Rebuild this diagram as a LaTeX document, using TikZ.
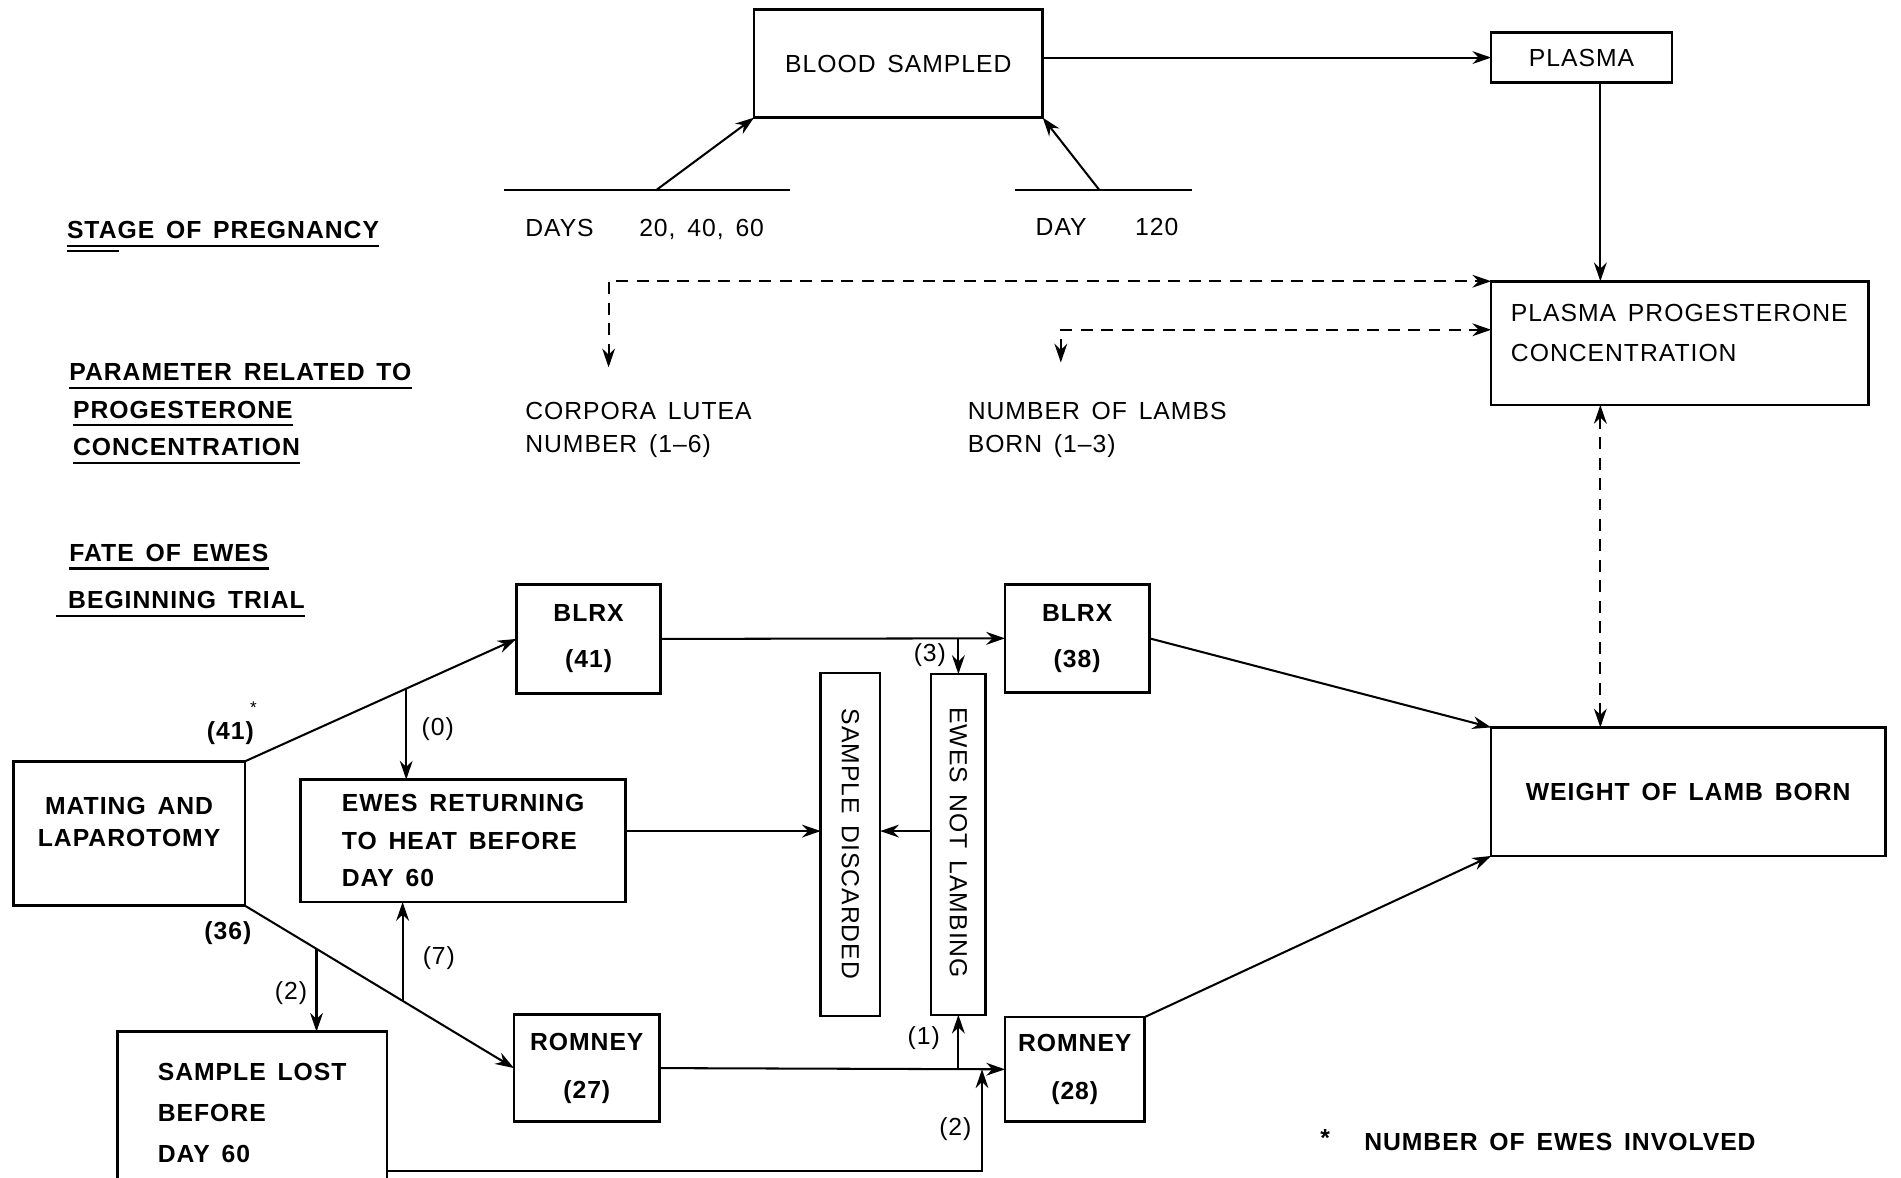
\documentclass[tikz,border=0pt]{standalone}
\usepackage{fontspec}
\setmainfont{Liberation Sans}[LetterSpace=4,WordSpace=1.5]
\usetikzlibrary{arrows.meta,calc}
\begin{document}
\begin{tikzpicture}[x=0.025cm,y=-0.025cm,>={Stealth[length=11pt,width=7.5pt]},
  every node/.style={font=\fontsize{14.5}{18}\selectfont},
  heavy/.style={font=\fontsize{14.5}{18}\selectfont\bfseries},
  box/.style={draw,line width=1.5pt,inner sep=0pt,outer sep=0pt},
  txt/.style={anchor=base west,inner sep=0pt},
  head/.style={heavy,anchor=base west,inner xsep=0pt,inner ysep=4pt,text depth=0pt},
  arr/.style={line width=1.2pt,->},
  darr/.style={line width=1.2pt,dash pattern=on 7pt off 5pt},
  uline/.style={line width=1.2pt}]
\useasboundingbox (0,0) rectangle (1568,971);
\fill[white] (0,0) rectangle (1568,971);
\node[head] (stage) at (55,197) {STAGE OF PREGNANCY};
\node[head] (par1) at (57,314) {PARAMETER RELATED TO};
\node[head] (par2) at (60,345) {PROGESTERONE};
\node[head] (par3) at (60,376) {CONCENTRATION};
\node[head] (fate1) at (57,463) {FATE OF EWES};
\node[head] (fate2) at (56,502) {BEGINNING TRIAL};
\foreach \n in {stage,par1,par2,par3,fate1}
  \draw[uline] (\n.south west) -- (\n.south east);
\draw[uline] ([xshift=-7pt]fate2.south west) -- (fate2.south east);
\draw[uline] ([yshift=-3pt]stage.south west) -- ++(43,0);
\node[box,minimum width=5.95cm,minimum height=2.225cm] (bs) at (741,52.5) {BLOOD SAMPLED};
\node[box,minimum width=3.725cm,minimum height=1.025cm] (plasma) at (1304.5,47.5) {PLASMA};
\draw[arr] (plasma.west -| bs.east) -- (plasma.west);
\draw[uline] (416,157) -- (652,157);
\draw[uline] (837,157) -- (983,157);
\coordinate (d1) at (541,157);
\coordinate (d2) at (907,157);
\draw[arr] (d1) -- (bs.south west);
\draw[arr] (d2) -- (bs.south east);
\node[txt] (days) at (433,195) {DAYS};
\node[txt] (dd) at (527,195) {20, 40, 60};
\node[txt] (day) at (854,194) {DAY};
\node[txt] (d120) at (936,194) {120};
\node[box,minimum width=7.775cm,minimum height=2.55cm] (ppc) at (1385.5,283) {};
\node[txt,align=left] (ppctxt) at (1246,298) {PLASMA PROGESTERONE\\[5.5pt]CONCENTRATION};
\coordinate (pv) at (1320,0);
\draw[arr] (plasma.south -| pv) -- (ppc.north -| pv);
\coordinate (cl) at (502,303);
\coordinate (nl) at (875,299);
\draw[darr,<->] (cl) |- (ppc.north west);
\draw[darr,<->] (nl) |- ($(ppc.west)+(0,-11)$);
\node[txt,align=left] (cltxt) at (433,373) {CORPORA LUTEA\\[1pt]NUMBER (1--6)};
\node[txt,align=left] (nltxt) at (798,373) {NUMBER OF LAMBS\\[1pt]BORN (1--3)};
\node[box,heavy,minimum width=8.125cm,minimum height=2.65cm] (wlb) at (1392.5,653) {WEIGHT OF LAMB BORN};
\draw[darr,<->] (ppc.south -| pv) -- (wlb.north -| pv);
\node[box,heavy,align=center,minimum width=4.775cm,minimum height=2.975cm] (mat) at (106.5,687.5) {MATING AND\\[1pt]LAPAROTOMY\\[-4pt]\mbox{}};
\node[box,heavy,align=center,minimum width=2.975cm,minimum height=2.25cm] (b41) at (485.5,527) {BLRX\\[9pt](41)};
\node[box,heavy,align=left,minimum width=6.7cm,minimum height=2.525cm] (er) at (382,693.5) {EWES RETURNING\\[4pt]TO HEAT BEFORE\\[4pt]DAY 60};
\node[box,heavy,align=left,minimum width=5.55cm,minimum height=3.35cm] (sl) at (208,918) {SAMPLE LOST\\[6pt]BEFORE\\[6pt]DAY 60};
\node[box,heavy,align=center,minimum width=3cm,minimum height=2.2cm] (r27) at (484,881) {ROMNEY\\[10pt](27)};
\node[box,heavy,align=center,minimum width=2.975cm,minimum height=2.225cm] (b38) at (888.5,526.5) {BLRX\\[9pt](38)};
\node[box,heavy,align=center,minimum width=2.875cm,minimum height=2.15cm] (r28) at (886.5,882) {ROMNEY\\[10pt](28)};
\node[box,minimum width=1.225cm,minimum height=7.075cm] (sd) at (701.5,696.5) {};
\node[box,minimum width=1.125cm,minimum height=7.025cm] (enl) at (790.5,696.5) {};
\node[rotate=-90] (sdtxt) at (701.5,696) {SAMPLE DISCARDED};
\node[rotate=-90] (enltxt) at (790.5,695) {EWES NOT LAMBING};
\draw[arr] (mat.north east) -- (b41.west);
\draw[arr] (mat.south east) -- (r27.west);
\coordinate (j0) at ($(mat.north east)!0.594!(b41.west)$);
\coordinate (j2) at ($(mat.south east)!0.266!(r27.west)$);
\coordinate (j7) at ($(mat.south east)!0.586!(r27.west)$);
\draw[arr] (j0) -- (j0 |- er.north);
\draw[arr] (j2) -- (j2 |- sl.north);
\draw[arr] (j7) -- (j7 |- er.south);
\draw[arr] (b41.east) -- (b38.west);
\draw[arr] (b41.east -| enl.north) -- (enl.north);
\coordinate (sdl) at ($(sd.west)+(0,-11)$);
\coordinate (sdr) at ($(sd.east)+(0,-11)$);
\draw[arr] (sdl -| er.east) -- (sdl);
\draw[arr] (sdr -| enl.west) -- (sdr);
\draw[arr] (r27.east) -- (r28.west);
\draw[arr] (r27.east -| enl.south) -- (enl.south);
\coordinate (jr) at ($(r28.west)+(-19,0)$);
\draw[arr] ($(sl.east)+(0,48)$) -| (jr);
\draw[arr] (b38.east) -- (wlb.north west);
\draw[arr] (r28.north east) -- (wlb.south west);
\node[heavy] (n41) at (190,605) {(41)};
\node[font=\fontsize{10}{12}\selectfont] (ast) at (209,584) {*};
\node[heavy] (n36) at (188,770) {(36)};
\node (n0) at (361,601) {(0)};
\node (n7) at (362,790) {(7)};
\node (n2a) at (240,819) {(2)};
\node (n3) at (767,540) {(3)};
\node (n1) at (762,856) {(1)};
\node (n2b) at (788,931) {(2)};
\node[heavy] (fnast) at (1093,939) {*};
\node[heavy,txt] (fn) at (1125,949) {NUMBER OF EWES INVOLVED};
\end{tikzpicture}
\end{document}
